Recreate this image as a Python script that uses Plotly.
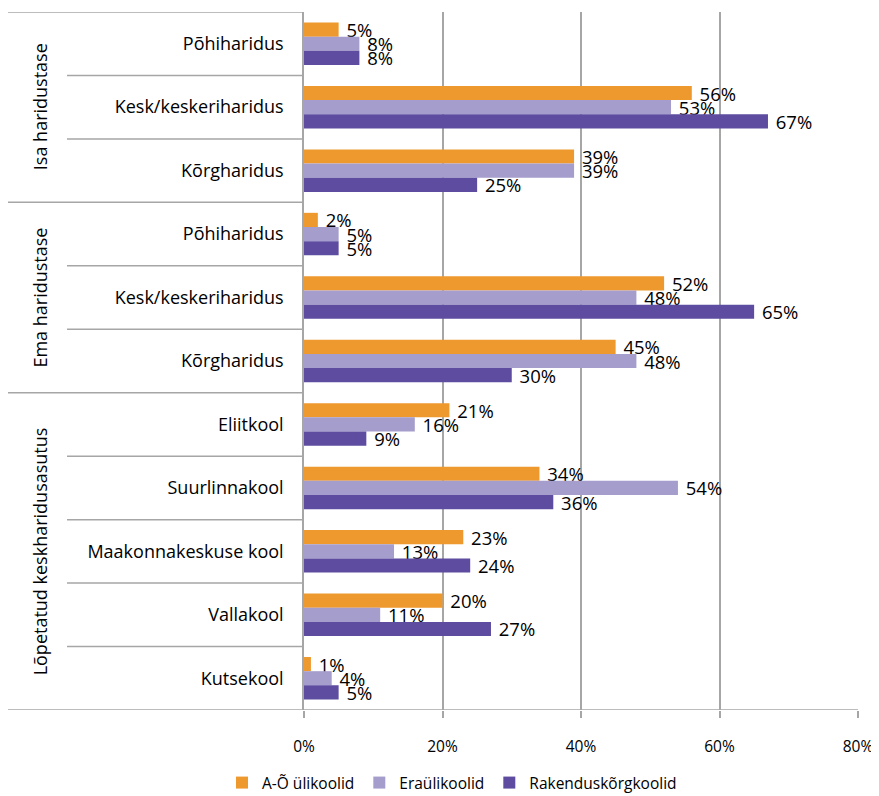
import plotly.graph_objects as go

groups = ["Isa haridustase", "Ema haridustase", "Lõpetatud keskharidusasutus"]
group_sizes = [3, 3, 5]
categories = ["Põhiharidus", "Kesk/keskeriharidus", "Kõrgharidus",
              "Põhiharidus", "Kesk/keskeriharidus", "Kõrgharidus",
              "Eliitkool", "Suurlinnakool", "Maakonnakeskuse kool", "Vallakool", "Kutsekool"]
series_names = ["A-Õ ülikoolid", "Eraülikoolid", "Rakenduskõrgkoolid"]
ao_ulikoolid = [5, 56, 39, 2, 52, 45, 21, 34, 23, 20, 1]
eraulikoolid = [8, 53, 39, 5, 48, 48, 16, 54, 13, 11, 4]
rakendus = [8, 67, 25, 5, 65, 30, 9, 36, 24, 27, 5]
x_ticks = [0, 20, 40, 60, 80]
x_ticklabels = ["0%", "20%", "40%", "60%", "80%"]

colors = ["#EE992E", "#A59DCC", "#5E4CA0"]
FONT = "Open Sans"

# page body has an 8px margin; lay out in screen pixels and convert
OFF = 8
W, H = 879 - OFF, 796 - OFF
L = 304 - OFF
T = 12 - OFF
pw = 858 - 304
ph = 710 - 12
R = W - L - pw
B = H - T - ph

def px_to_paper(px):
    return (px - OFF - L) / pw

positions = list(range(len(categories)))

fig = go.Figure()
for name, vals, col in zip(series_names, [ao_ulikoolid, eraulikoolid, rakendus], colors):
    fig.add_trace(go.Bar(
        y=positions, x=vals, name=name, orientation="h",
        marker=dict(color=col, line=dict(width=0)),
        text=[f" {v}%" for v in vals], textposition="outside",
        textfont=dict(family=FONT, size=18.5, color="#000000"),
        cliponaxis=False, constraintext="none",
    ))

shapes = []
line_col = "#A6A6A6"
shapes.append(dict(type="line", xref="paper", yref="y", x0=px_to_paper(8), x1=0,
                   y0=-0.5, y1=-0.5, line=dict(color=line_col, width=1.5)))
shapes.append(dict(type="line", xref="paper", yref="y", x0=px_to_paper(8), x1=1,
                   y0=len(categories) - 0.5, y1=len(categories) - 0.5, line=dict(color=line_col, width=1.5)))
annotations = []
start = 0
for g, n in zip(groups, group_sizes):
    end = start + n
    for i in range(start, end - 1):
        shapes.append(dict(type="line", xref="paper", yref="y", x0=px_to_paper(67), x1=0,
                           y0=i + 0.5, y1=i + 0.5, line=dict(color=line_col, width=1.5)))
    if end < len(categories):
        shapes.append(dict(type="line", xref="paper", yref="y", x0=px_to_paper(8), x1=0,
                           y0=end - 0.5, y1=end - 0.5, line=dict(color=line_col, width=1.5)))
    annotations.append(dict(text=g, xref="paper", yref="y", x=px_to_paper(40), y=(start + end - 1) / 2,
                            textangle=-90, showarrow=False, xanchor="center", yanchor="middle",
                            font=dict(family=FONT, size=18, color="#000000")))
    start = end

fig.update_layout(
    width=W, height=H,
    margin=dict(l=L, r=R, t=T, b=B, autoexpand=False),
    paper_bgcolor="white", plot_bgcolor="white",
    barmode="group", bargap=0.33, bargroupgap=0,
    font=dict(family=FONT, size=16, color="#000000"),
    shapes=shapes, annotations=annotations,
    showlegend=True,
    legend=dict(orientation="h", x=px_to_paper(452), xanchor="center",
                y=-(783 - 710) / ph, yanchor="middle",
                font=dict(family=FONT, size=15.5, color="#000000"), traceorder="normal",
                itemwidth=30),
)
fig.update_xaxes(range=[0, 80], tickvals=x_ticks, ticktext=x_ticklabels,
                 showgrid=True, gridcolor=line_col, gridwidth=1.5,
                 zeroline=False, showline=False,
                 ticks="outside", ticklen=7, tickcolor=line_col, tickwidth=1.5,
                 ticklabelstandoff=15,
                 tickfont=dict(family=FONT, size=15.5, color="#000000"))
fig.update_yaxes(range=[len(categories) - 0.5, -0.5], tickvals=positions, ticktext=categories,
                 showgrid=False, zeroline=False, showline=True, linecolor=line_col, linewidth=1.5,
                 ticks="", ticklabelstandoff=15,
                 tickfont=dict(family=FONT, size=18, color="#000000"))

fig.write_html("out.html")
